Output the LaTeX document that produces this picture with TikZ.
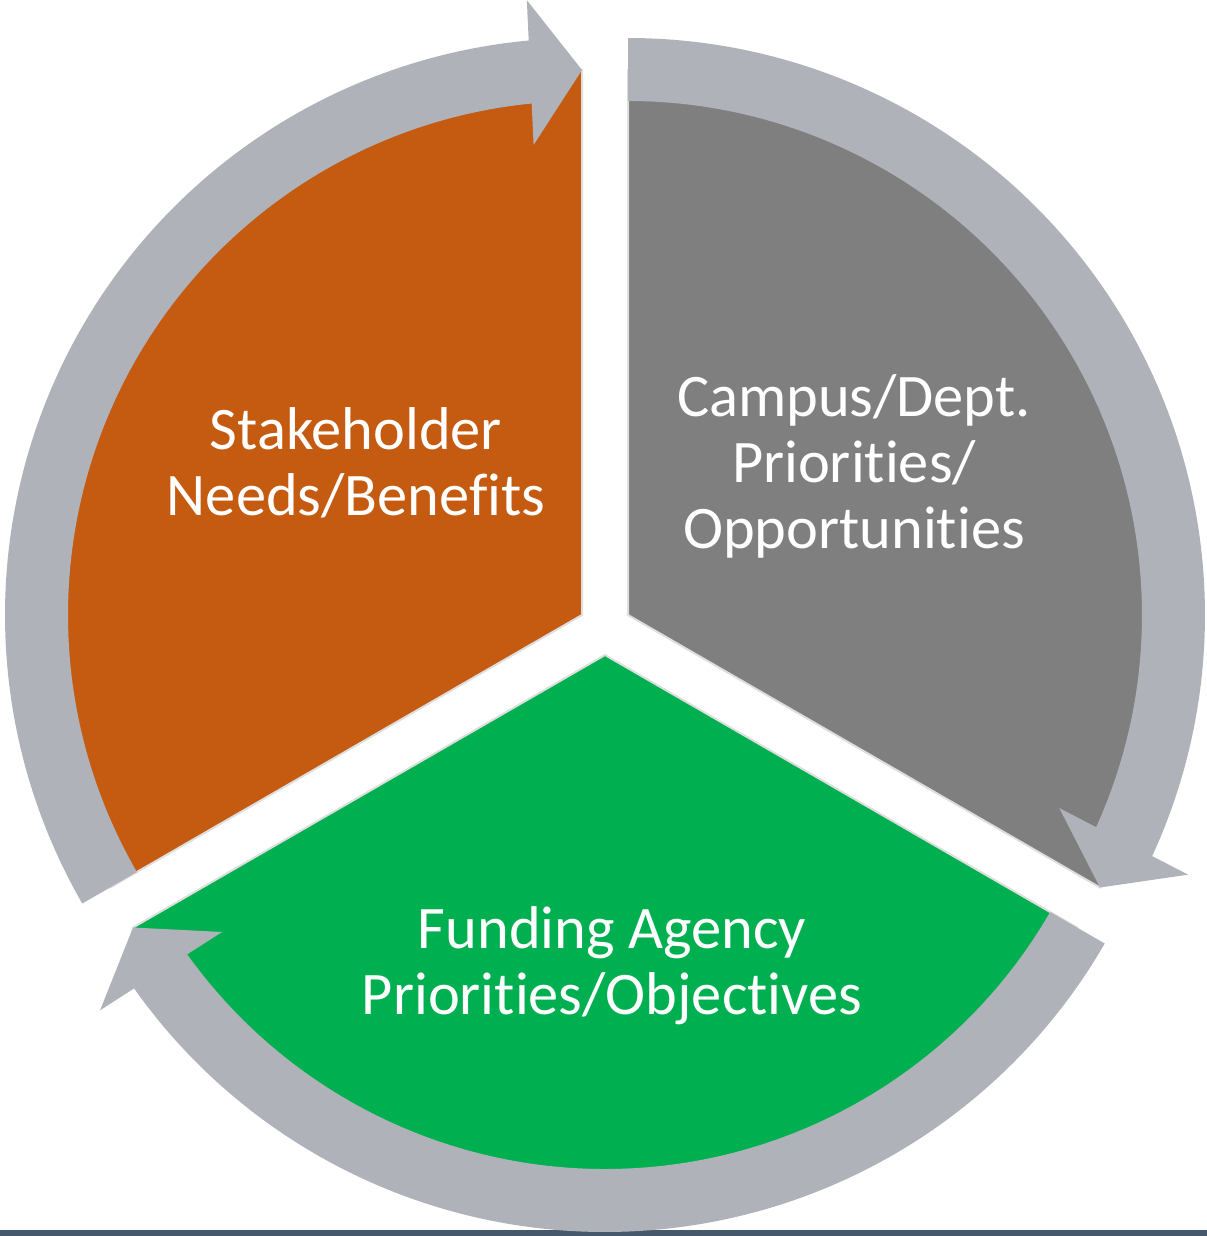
\documentclass[tikz,border=0pt]{standalone}
\usepackage{fontspec}
\setmainfont{Carlito}[Ligatures={NoCommon}]
\tikzset{
  ring/.style={fill={rgb, 255:red, 175; green, 178; blue, 185 }},
  wedge/.style={draw={rgb, 255:red, 222; green, 222; blue, 222 }, line width=1.5},
  lbl/.style={text=white, align=center, inner sep=0pt,
    font=\fontsize{45.3}{49.5}\selectfont},
}
\begin{document}
\begin{tikzpicture}[x=0.75pt,y=0.75pt,yscale=-1,xscale=1]
\useasboundingbox (0,0) rectangle (1207,1236);
%Shape: Rectangle [strip at the bottom]
\fill [color={rgb, 255:red, 70; green, 88; blue, 108 }] (0,1230) rectangle (1207,1236) ;
%Shape: Pie [stakeholder]
\filldraw [wedge, fill={rgb, 255:red, 197; green, 90; blue, 17 }, shift={(582,615)}]
(0,0) -- (150:545) arc[start angle=150, end angle=270, radius=545] -- cycle ;
%Shape: Pie [campus]
\filldraw [wedge, fill={rgb, 255:red, 127; green, 127; blue, 127 }, shift={(628,615)}]
(0,0) -- (-90:545) arc[start angle=-90, end angle=30, radius=545] -- cycle ;
%Shape: Pie [funding]
\filldraw [wedge, fill={rgb, 255:red, 0; green, 176; blue, 80 }, shift={(605,655)}]
(0,0) -- (30:545) arc[start angle=30, end angle=150, radius=545] -- cycle ;
%Shape: Block Arc with arrow [left]
\fill [ring, shift={(582,615)}]
(150:514) arc[start angle=150, end angle=264.38, radius=514] -- (264.12:472.6) -- (270:545)
-- (264.87:617.4) -- (264.70:577) arc[start angle=264.70, end angle=150, radius=577] -- cycle ;
%Shape: Block Arc with arrow [right]
\fill [ring, shift={(628,615)}]
(-90:514) arc[start angle=-90, end angle=24.38, radius=514] -- (24.12:472.6) -- (30:545)
-- (24.87:617.4) -- (24.70:577) arc[start angle=24.70, end angle=-90, radius=577] -- cycle ;
%Shape: Block Arc with arrow [bottom]
\fill [ring, shift={(605,655)}]
(30:514) arc[start angle=30, end angle=144.38, radius=514] -- (144.12:472.6) -- (150:545)
-- (144.87:617.4) -- (144.70:577) arc[start angle=144.70, end angle=30, radius=577] -- cycle ;
% Text
\node [lbl] (stake) at (356,463) {Stakeholder\\Needs/Benefits};
\node [lbl] (campus) at (854,466) {Campus/Dept.\\Priorities/\\Opportunities};
\node [lbl] (funding) at (612,966) {Funding Agency\\Priorities/Objectives};
\end{tikzpicture}
\end{document}
